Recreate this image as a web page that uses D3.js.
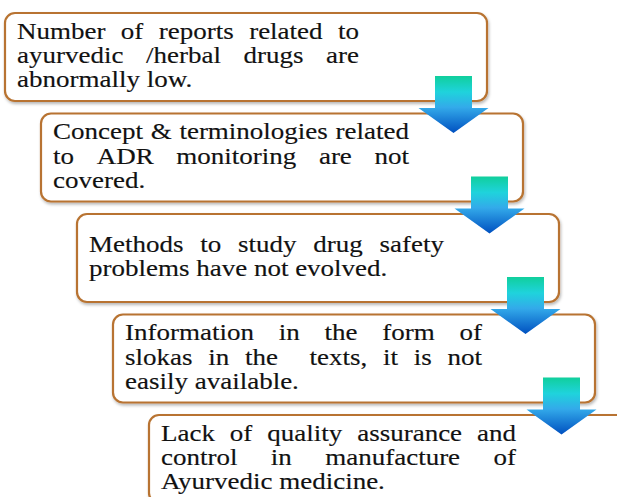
<!DOCTYPE html>
<html>
<head>
<meta charset="utf-8">
<script src="https://cdn.jsdelivr.net/npm/d3@7"></script>
<style>
  body { margin: 0; background: #fff; }
  svg { display: block; }
</style>
</head>
<body>
<svg id="chart"></svg>
<script>
    // text of each step, line by line as in the picture
    const step1 = ["Number of reports related to", "ayurvedic /herbal drugs are", "abnormally low."];
    const step2 = ["Concept & terminologies related", "to ADR monitoring are not", "covered."];
    const step3 = ["Methods to study drug safety", "problems have not evolved."];
    const step4 = ["Information in the form of", "slokas in the  texts, it is not", "easily available."];
    const step5 = ["Lack of quality assurance and", "control in manufacture of", "Ayurvedic medicine."];
    const steps = [step1, step2, step3, step4, step5];

    let W = 617, H = 497,
        boxW = 482, boxH = 88,
        textW = [342, 356, 355, 357, 355],
        fs = 22.5, sx = 1.2, lineH = 24.3;

    let svg = d3.select('#chart').attr('width', W).attr('height', H);

    // les marches de l'escalier
    let x = d3.scaleLinear().domain([0, steps.length - 1]).range([5, 149]),
        y = d3.scaleLinear().domain([0, steps.length - 1]).range([13, 415]);

    let defs = svg.append('defs');
    let shadow = defs.append('filter').attr('id', 'shadow')
        .attr('x', '-5%').attr('y', '-10%').attr('width', '115%').attr('height', '130%');
    shadow.append('feDropShadow')
        .attr('dx', 1).attr('dy', 2).attr('stdDeviation', 1.5)
        .attr('flood-color', '#000').attr('flood-opacity', 0.28);

    let grad = defs.append('linearGradient').attr('id', 'arrowGrad')
        .attr('x1', 0).attr('y1', 0).attr('x2', 0).attr('y2', 1);
    [[0, '#10cf9c'], [0.28, '#1fd3dc'], [0.55, '#33aaea'], [1, '#0050c0']].forEach(s => {
        grad.append('stop').attr('offset', s[0]).attr('stop-color', s[1]);
    });

    let boxes = svg.selectAll('g.step').data(steps).join('g')
        .attr('class', 'step');

    boxes.append('rect')
        .attr('x', (d, i) => x(i))
        .attr('y', (d, i) => y(i))
        .attr('width', boxW).attr('height', boxH)
        .attr('rx', 10).attr('ry', 10)
        .attr('fill', '#fff')
        .attr('stroke', '#b87330')
        .attr('stroke-width', 2.2)
        .attr('filter', 'url(#shadow)');

    boxes.each(function(lines, i) {
        let g = d3.select(this).append('g')
            .attr('transform', `translate(${x(i) + 12},${y(i) + boxH / 2 + 6 - (lines.length - 1) / 2 * lineH})`)
            .style('font-family', '"Liberation Serif", "Times New Roman", serif')
            .style('font-size', fs + 'px')
            .attr('fill', '#111')
            .attr('stroke', '#111')
            .attr('stroke-width', 0.15);
        let target = textW[i] / sx;
        lines.forEach((ln, k) => {
            let t = g.append('text')
                .attr('transform', `translate(0,${k * lineH}) scale(${sx},1)`);
            if (k === lines.length - 1) {
                t.text(ln);
                return;
            }
            // justified line
            let words = ln.split(' '),
                spans = words.map(w => t.append('tspan').text(w)),
                widths = spans.map(s => s.node().getComputedTextLength()),
                gap = (target - d3.sum(widths)) / (words.length - 1),
                cx = 0;
            spans.forEach((s, j) => {
                s.attr('x', cx);
                cx += widths[j] + gap;
            });
        });
    });

    // fleches entre les boites
    let sw = 37, hw = 70, shaftH = 32, arrowH = 57;
    let arrowPts = [[-sw / 2, 0], [sw / 2, 0], [sw / 2, shaftH], [hw / 2, shaftH],
                    [0, arrowH], [-hw / 2, shaftH], [-sw / 2, shaftH]];
    let line = d3.line().curve(d3.curveLinearClosed);

    svg.selectAll('path.arrow').data(d3.range(steps.length - 1)).join('path')
        .attr('class', 'arrow')
        .attr('transform', i => `translate(${x(i) + boxW - 33.5},${y(i) + boxH - 25})`)
        .attr('d', line(arrowPts))
        .attr('fill', 'url(#arrowGrad)');
</script>
</body>
</html>
